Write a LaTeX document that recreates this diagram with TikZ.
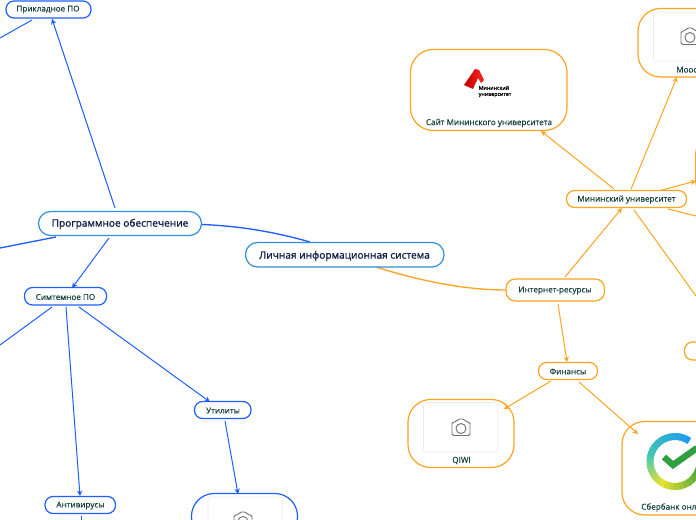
\documentclass[tikz,border=0pt]{standalone}
\usepackage{fontspec}
\setmainfont{Open Sans}
\newfontfamily\lblfont[FakeBold=0.25]{Open Sans}
\newfontfamily\rootfont[FakeBold=1.3]{Open Sans}
\newfontfamily\logofont[FakeBold=0.6]{Open Sans}
\usetikzlibrary{arrows.meta,calc}
\definecolor{blu}{HTML}{1F5FFF}
\definecolor{org}{HTML}{FFA41F}
\definecolor{rootb}{HTML}{2F8FD8}
\definecolor{txt}{HTML}{16423C}
\definecolor{rtxt}{HTML}{12204A}
\definecolor{sbA}{HTML}{1E9BF0}
\definecolor{sbB}{HTML}{45C8B0}
\definecolor{sbC}{HTML}{E8E030}
\definecolor{sbD}{HTML}{2FA040}
\tikzset{
 x=0.75pt,y=-0.75pt,
 box/.style={rounded corners=#1,line width=0.9pt,fill=white},
 lbl/.style={font=\lblfont\fontsize{6.1}{8}\selectfont,text=txt,inner sep=0pt},
 rlbl/.style={font=\rootfont\fontsize{7.6}{9}\selectfont,text=rtxt,inner sep=0pt},
 blink/.style={draw=blu,line width=0.75pt,-{Stealth[length=4pt,width=4pt]}},
 olink/.style={draw=org,line width=0.75pt,-{Stealth[length=4pt,width=4pt]}},
}
\newcommand{\cam}[2]{%
 \begin{scope}[shift={(#1,#2)},draw=black!55,line width=0.7pt]
 \draw[rounded corners=1.2pt] (-9,-6) -- (-5,-6) -- (-3,-9) -- (3,-9) -- (5,-6) -- (9,-6) -- (9,7.5) -- (-9,7.5) -- cycle;
 \draw (0,0.5) circle[radius=5];
 \end{scope}}
% ring part: #1 from angle, #2 to angle (counter-clockwise), #3 #4 colours
\newcommand{\ringpart}[4]{%
 \foreach \k in {0,...,9}{%
  \pgfmathsetmacro{\aa}{#1+(#2-#1)*\k/10}%
  \pgfmathsetmacro{\bb}{#1+(#2-#1)*(\k+1.3)/10}%
  \pgfmathsetmacro{\tt}{100-\k*10}%
  \colorlet{cc}{#3!\tt!#4}%
  \draw[cc,line width=5.2pt] ({675+25*cos(\aa)},{461.5-25*sin(\aa)}) arc[start angle=-\aa,end angle=-\bb,radius=25];
 }}
\begin{document}
\begin{tikzpicture}
\useasboundingbox (0,0) rectangle (696,520);
\clip (0,0) rectangle (696,520);
\fill[white] (0,0) rectangle (696,520);
% curved links
\coordinate (pr) at (202,224.5);
\coordinate (lr) at (310,242);
\draw[draw=blu,line width=1pt] (pr) .. controls (240,226) and (275,232) .. (lr);
\coordinate (lb) at (376,267);
\coordinate (ir) at (506,290);
\draw[draw=org,line width=1pt] (lb) .. controls (420,281) and (465,290) .. (ir);
% boxes
\draw[blu,box=6pt] (6,1) rectangle (91,18);
\node[lbl] (pp) at (48,9.5) {Прикладное ПО};
\draw[rootb,box=9pt] (38.5,211.5) rectangle (201.5,235.5);
\node[rlbl] (prog) at (120,224) {Программное обеспечение};
\draw[rootb,box=9pt] (245.5,242.5) rectangle (444,267);
\node[rlbl] (lis) at (344.5,256) {Личная информационная система};
\draw[blu,box=6pt] (24.5,287.5) rectangle (106.5,305);
\node[lbl] (sys) at (65.5,297) {Симтемное ПО};
\draw[blu,box=6pt] (194.5,401.5) rectangle (251,418.5);
\node[lbl] (util) at (223,410.5) {Утилиты};
\draw[blu,box=6pt] (45,496.5) rectangle (115.5,513.5);
\node[lbl] (anti) at (80.5,505.5) {Антивирусы};
\draw[blu,box=17pt] (191.5,493.5) rectangle (297.5,540);
\draw[black!8,fill=white,rounded corners=2pt] (208,497) rectangle (282,545);
\cam{243}{521}
% orange boxes
\draw[org,box=17pt] (410.5,49.5) rectangle (567,130.5);
\node[lbl] (site) at (489,123) {Сайт Мининского университета};
\shade[left color=red!75!black,right color=red!85!white] (464,85) -- (475,69) -- (479,70) -- (484,80) -- (481,83) -- (478,78) -- (473,89) -- cycle;
\node[inner sep=0pt,font=\logofont\fontsize{4}{4.6}\selectfont,align=left,text=black] (logo) at (495,91.5) {Мининский\\университет};
\draw[org,box=17pt] (638,8.5) rectangle (720,77);
\draw[black!8,fill=white,rounded corners=2pt] (653.5,12) rectangle (730,61);
\cam{690}{37}
\node[lbl,anchor=west] (moo) at (676,69.5) {Moodle};
\draw[org,box=6pt] (566.5,190.5) rectangle (686.5,207.5);
\node[lbl] (min) at (626.5,199.5) {Мининский университет};
\draw[org,box=7pt] (506,279) rectangle (604.5,301);
\node[lbl] (inet) at (555,290.5) {Интернет-ресурсы};
\draw[org,box=6pt] (538.5,362.5) rectangle (597.5,379.5);
\node[lbl] (fin) at (568,371.5) {Финансы};
\draw[org,box=6pt] (684.5,342) rectangle (720,360);
\draw[org,box=17pt] (408,399.5) rectangle (514,467.5);
\draw[black!8,fill=white,rounded corners=2pt] (423.5,402.5) rectangle (498,452);
\cam{461}{428}
\node[lbl] (qiwi) at (461.5,460.5) {QIWI};
\draw[org,box=17pt] (622,421.5) rectangle (720,515);
\ringpart{55}{165}{sbA}{sbB}
\ringpart{165}{235}{sbB}{sbC}
\ringpart{235}{345}{sbC}{sbD}
\draw[sbD,line width=4.8pt] (664,457) -- (673,465) -- (697,448);
\node[lbl,anchor=west] (sb) at (641,507.5) {Сбербанк онлайн};
\draw[org,box=17pt] (695.5,133) rectangle (800,202);
% straight links
\coordinate (a1) at (115,208);
\coordinate (a2) at (52,19);
\draw[blink] (a1) -- (a2);
\coordinate (a3) at (32,20);
\coordinate (a4) at (0,38);
\draw[draw=blu,line width=0.75pt] (a3) -- (a4);
\coordinate (a5) at (56,237);
\coordinate (a6) at (0,248);
\draw[draw=blu,line width=1pt] (a5) -- (a6);
\coordinate (a7) at (109,238);
\coordinate (a8) at (72,288);
\draw[blink] (a7) -- (a8);
\coordinate (a9) at (52,307);
\coordinate (a10) at (0,345);
\draw[draw=blu,line width=0.75pt] (a9) -- (a10);
\coordinate (a11) at (66,307);
\coordinate (a12) at (80,496);
\draw[blink] (a11) -- (a12);
\coordinate (a13) at (79,307);
\coordinate (a14) at (210,402);
\draw[blink] (a13) -- (a14);
\coordinate (a15) at (225,421);
\coordinate (a16) at (238,494);
\draw[blink] (a15) -- (a16);
\coordinate (a17) at (81,516);
\coordinate (a18) at (81,520);
\draw[draw=blu,line width=0.75pt] (a17) -- (a18);
\coordinate (o1) at (565,277);
\coordinate (o2) at (622,208);
\draw[olink] (o1) -- (o2);
\coordinate (o3) at (558,304);
\coordinate (o4) at (567,362);
\draw[olink] (o3) -- (o4);
\coordinate (o5) at (551,381);
\coordinate (o6) at (504,409);
\draw[olink] (o5) -- (o6);
\coordinate (o7) at (579,382);
\coordinate (o8) at (638,434);
\draw[olink] (o7) -- (o8);
\coordinate (o9) at (614,189);
\coordinate (o10) at (541,131);
\draw[olink] (o9) -- (o10);
\coordinate (o11) at (631,189);
\coordinate (o12) at (677,77);
\draw[olink] (o11) -- (o12);
\coordinate (o13) at (662,190);
\coordinate (o14) at (696,181);
\draw[olink] (o13) -- (o14);
\coordinate (o15) at (668,209);
\coordinate (o16) at (696,216);
\draw[draw=org,line width=0.75pt] (o15) -- (o16);
\coordinate (o17) at (634,210);
\coordinate (o18) at (696,296);
\draw[draw=org,line width=0.75pt] (o17) -- (o18);
\end{tikzpicture}
\end{document}
